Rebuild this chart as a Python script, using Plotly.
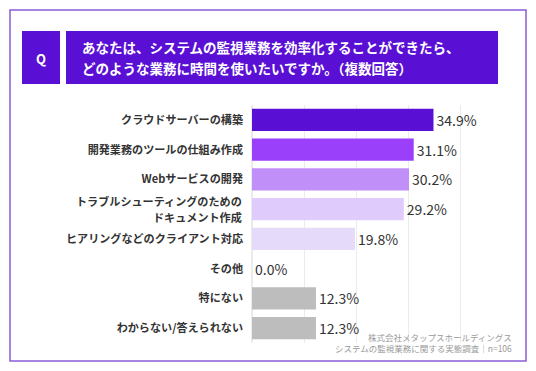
import plotly.graph_objects as go

categories = [
    "クラウドサーバーの構築",
    "開発業務のツールの仕組み作成",
    "Webサービスの開発",
    "トラブルシューティングのための<br>ドキュメント作成",
    "ヒアリングなどのクライアント対応",
    "その他",
    "特にない",
    "わからない/答えられない",
]
values = [34.9, 31.1, 30.2, 29.2, 19.8, 0.0, 12.3, 12.3]
bar_colors = ["#5A10D4", "#9B40FA", "#C090F8", "#E0CCFC", "#E6DAFA", "#E6DAFA", "#BDBDBD", "#BDBDBD"]
title_lines = ["あなたは、システムの監視業務を効率化することができたら、",
               "どのような業務に時間を使いたいですか。（複数回答）"]
source_text = "株式会社メタップスホールディングス<br>システムの監視業務に関する実態調査｜n=106"

W, H = 536, 371
L, R, T, B = 252, 24, 105, 28
PW, PH = W - L - R, H - T - B


def px(x):
    return (x - L) / PW


def py(y):
    return (H - B - y) / PH


FONT = "Noto Sans CJK JP"
LABEL_FONT = dict(size=11.1, color="#333333", family=FONT, weight="bold")

# single-line labels as tick text; multi-line labels drawn as separate lines
ticktext = [c if "<br>" not in c else "" for c in categories]

fig = go.Figure(go.Bar(
    x=values,
    y=categories,
    orientation="h",
    marker=dict(color=bar_colors, line=dict(width=0)),
    texttemplate="%{x:.1f}%",
    textposition="outside",
    textfont=dict(size=14, color="#333333", family=FONT),
    cliponaxis=False,
    hoverinfo="skip",
))

annotations = [
    dict(text="Q", xref="paper", yref="paper", x=px(41), y=py(58), showarrow=False,
         xanchor="center", yanchor="middle",
         font=dict(size=13, color="white", family=FONT, weight="bold")),
    dict(text=title_lines[0], xref="paper", yref="paper", x=px(80), y=py(47.5), showarrow=False,
         xanchor="left", yanchor="middle", align="left",
         font=dict(size=13.5, color="white", family=FONT, weight="bold")),
    dict(text=title_lines[1], xref="paper", yref="paper", x=px(80), y=py(68), showarrow=False,
         xanchor="left", yanchor="middle", align="left",
         font=dict(size=13.5, color="white", family=FONT, weight="bold")),
    dict(text=source_text, xref="paper", yref="paper", x=px(514), y=py(342), showarrow=False,
         xanchor="right", yanchor="middle", align="right",
         font=dict(size=8.5, color="#9A9A9A", family=FONT)),
]

for c in categories:
    if "<br>" in c:
        parts = c.split("<br>")
        for i, part in enumerate(parts):
            annotations.append(dict(
                text=part, xref="paper", yref="y", x=px(L - 8), y=c,
                yshift=(len(parts) - 1) / 2 * 15.6 - i * 15.6,
                showarrow=False, xanchor="right", yanchor="middle", align="right",
                font=LABEL_FONT))

fig.update_layout(
    width=W, height=H,
    margin=dict(l=L, r=R, t=T, b=B),
    paper_bgcolor="white", plot_bgcolor="white",
    bargap=0.26,
    showlegend=False,
    font=dict(family=FONT, color="#333333"),
    xaxis=dict(range=[0, 50], tickvals=[0, 10, 20, 30, 40], showticklabels=False,
               showgrid=True, gridcolor="#EBEBEB", gridwidth=1, zeroline=True,
               zerolinecolor="#EBEBEB", showline=False, fixedrange=True),
    yaxis=dict(autorange="reversed", showgrid=False, showline=False, ticks="",
               tickmode="array", tickvals=categories, ticktext=ticktext,
               ticklabelstandoff=8, fixedrange=True, tickfont=LABEL_FONT),
    shapes=[
        dict(type="rect", xref="paper", yref="paper", x0=px(10), x1=px(526), y0=py(10), y1=py(361),
             line=dict(color="#8B5CD6", width=1.5), fillcolor="rgba(0,0,0,0)", layer="below"),
        dict(type="rect", xref="paper", yref="paper", x0=px(22), x1=px(60), y0=py(31), y1=py(84),
             line=dict(width=0), fillcolor="#5A10D4"),
        dict(type="rect", xref="paper", yref="paper", x0=px(66), x1=px(498), y0=py(31), y1=py(84),
             line=dict(width=0), fillcolor="#5A10D4"),
    ],
    annotations=annotations,
)

fig.write_html("out.html", config={"displayModeBar": False},
               post_script="document.body.style.margin='0';")
